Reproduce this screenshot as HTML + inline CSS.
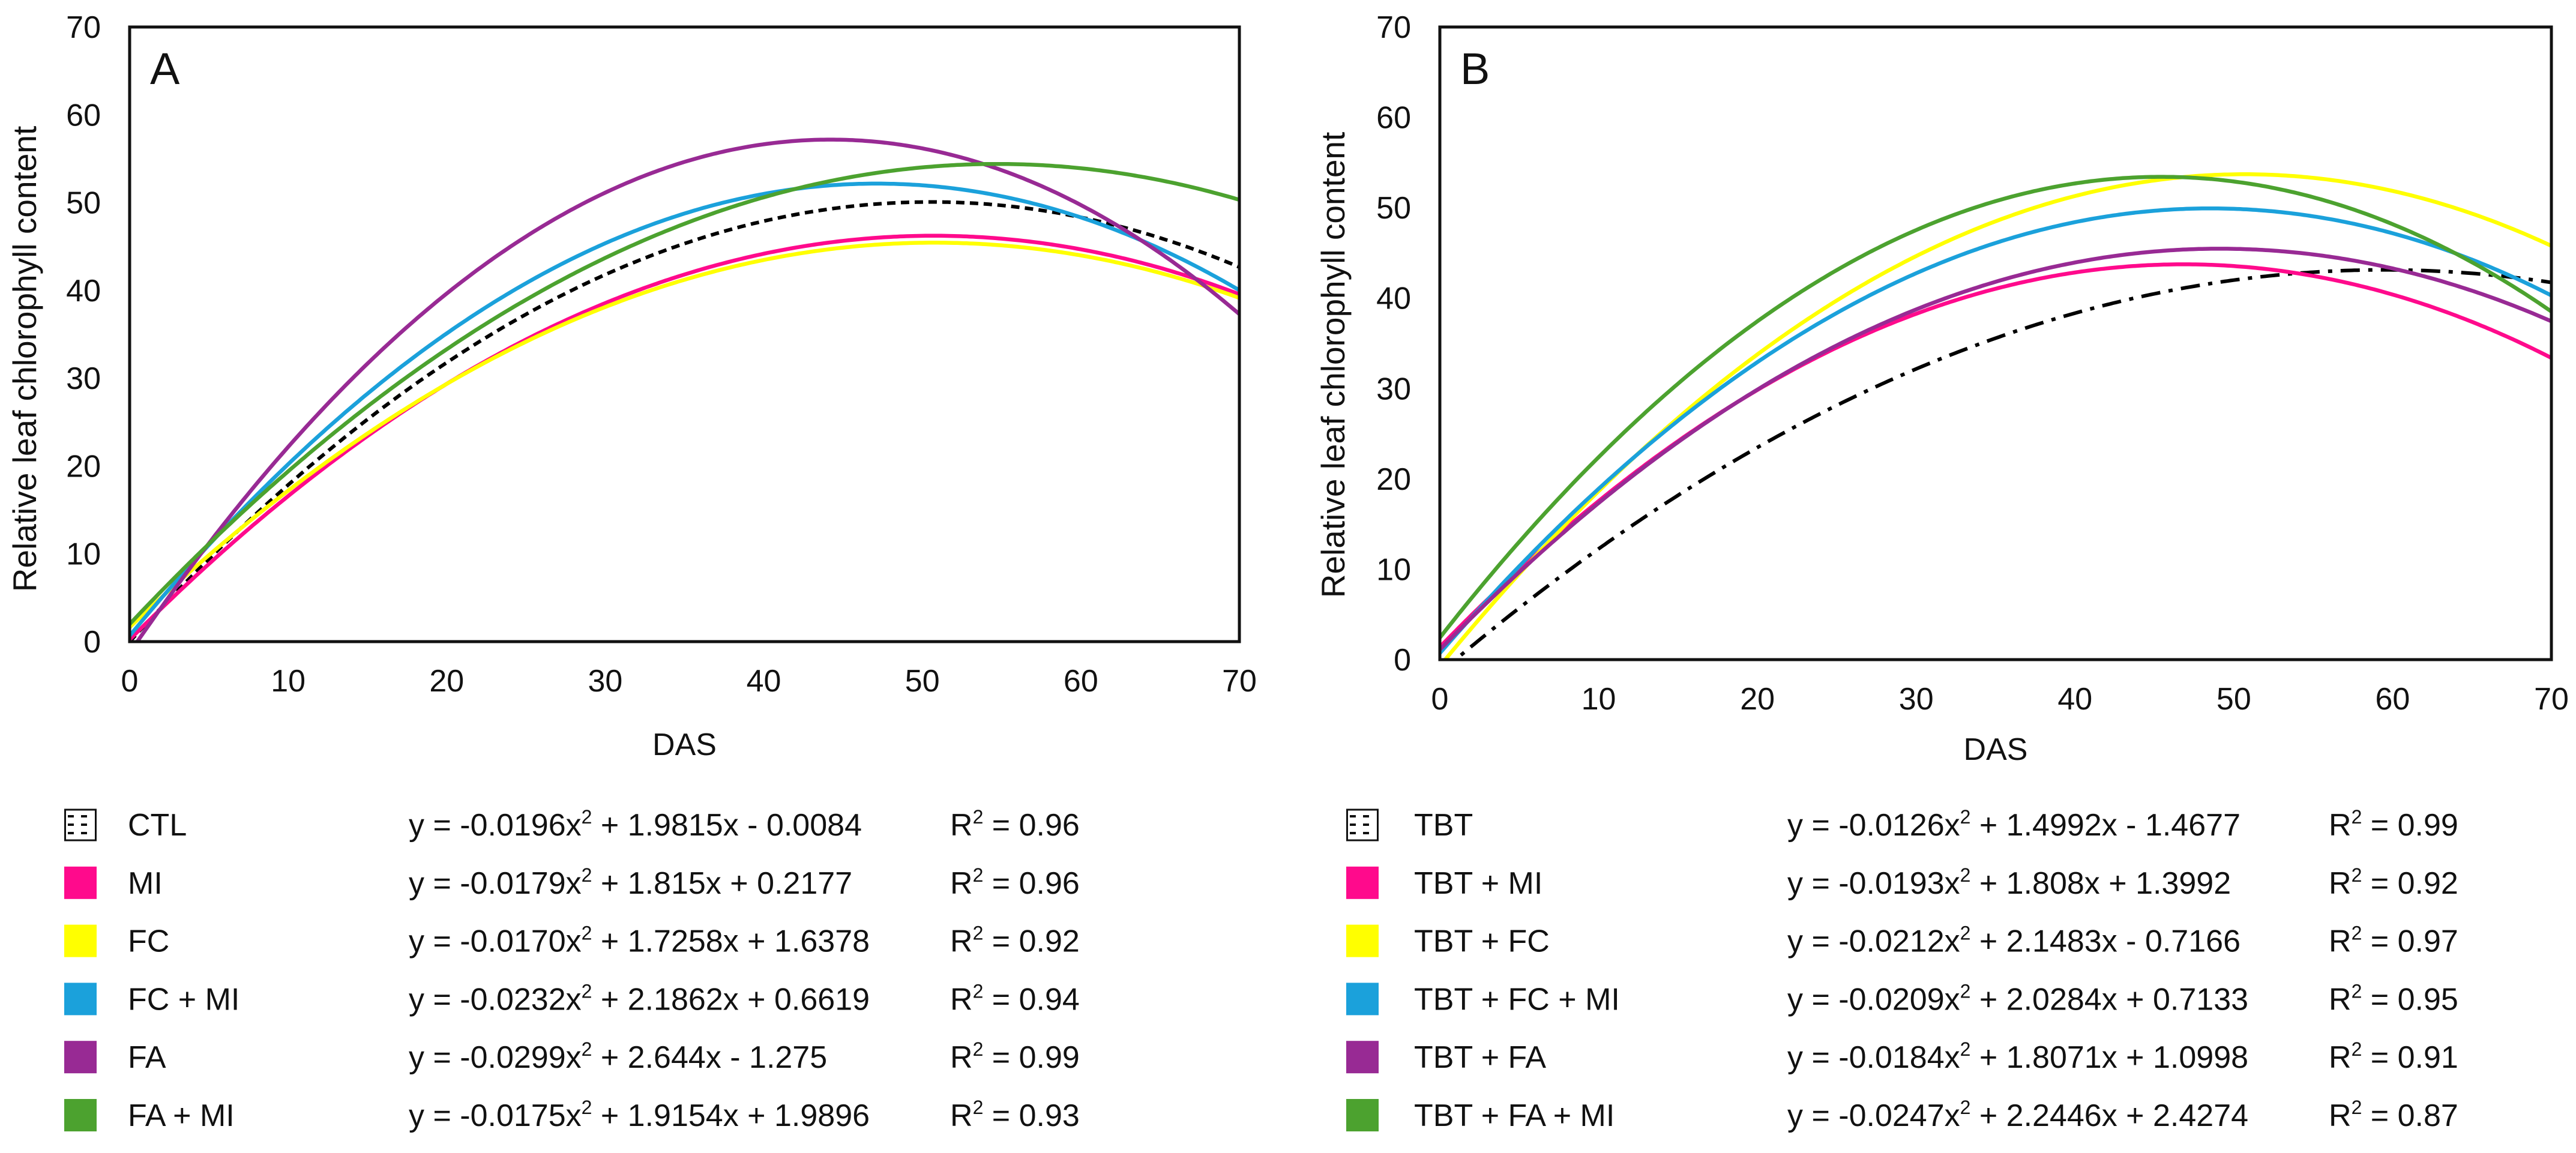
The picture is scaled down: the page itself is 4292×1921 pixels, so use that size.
<!DOCTYPE html>
<html>
<head>
<meta charset="utf-8">
<style>
html,body{margin:0;padding:0;background:#fff;}
svg{display:block;}
text{font-family:"Liberation Sans",Arial,sans-serif;fill:#111;}
</style>
</head>
<body>
<svg id="fig" xmlns="http://www.w3.org/2000/svg" width="4292" height="1921" viewBox="0 0 4292 1921"></svg>
<script>
// ---- Data: panel A (quadratic trendline coefficients y = a x^2 + b x + c) ----
const namesA = ["CTL", "MI", "FC", "FC + MI", "FA", "FA + MI"];
const aA = [-0.0196, -0.0179, -0.0170, -0.0232, -0.0299, -0.0175];
const bA = [1.9815, 1.815, 1.7258, 2.1862, 2.644, 1.9154];
const cA = [-0.0084, 0.2177, 1.6378, 0.6619, -1.275, 1.9896];
const r2A = ["0.96", "0.96", "0.92", "0.94", "0.99", "0.93"];
const eqA = ["-0.0196", "1.9815", "- 0.0084", "-0.0179", "1.815", "+ 0.2177", "-0.0170", "1.7258", "+ 1.6378", "-0.0232", "2.1862", "+ 0.6619", "-0.0299", "2.644", "- 1.275", "-0.0175", "1.9154", "+ 1.9896"];
// ---- Data: panel B ----
const namesB = ["TBT", "TBT + MI", "TBT + FC", "TBT + FC + MI", "TBT + FA", "TBT + FA + MI"];
const aB = [-0.0126, -0.0193, -0.0212, -0.0209, -0.0184, -0.0247];
const bB = [1.4992, 1.808, 2.1483, 2.0284, 1.8071, 2.2446];
const cB = [-1.4677, 1.3992, -0.7166, 0.7133, 1.0998, 2.4274];
const r2B = ["0.99", "0.92", "0.97", "0.95", "0.91", "0.87"];
const eqB = ["-0.0126", "1.4992", "- 1.4677", "-0.0193", "1.808", "+ 1.3992", "-0.0212", "2.1483", "- 0.7166", "-0.0209", "2.0284", "+ 0.7133", "-0.0184", "1.8071", "+ 1.0998", "-0.0247", "2.2446", "+ 2.4274"];
// ---- Axis ticks ----
const xTicks = [0, 10, 20, 30, 40, 50, 60, 70];
const yTicks = [0, 10, 20, 30, 40, 50, 60, 70];

const colors = ["#000000", "#ff0a8c", "#ffff00", "#1ba1db", "#982a94", "#4ca22f"];
const NS = "http://www.w3.org/2000/svg";
const svg = document.getElementById("fig");

function mk(tag, attrs, parent) {
  const e = document.createElementNS(NS, tag);
  for (const k in attrs) e.setAttribute(k, attrs[k]);
  (parent || svg).appendChild(e);
  return e;
}

function drawPanel(p) {
  const g = mk("g", {});
  
  
  const sx = v => p.x0 + (v - 0) / 70 * (p.x1 - p.x0);
  const sy = v => p.y0 - (v - 0) / 70 * (p.y0 - p.y1);

  const cp = mk("clipPath", { id: "clip" + p.id }, g);
  mk("rect", { x: p.x0, y: p.y1, width: p.x1 - p.x0, height: p.y0 - p.y1 }, cp);

  const lines = mk("g", { "clip-path": "url(#clip" + p.id + ")" }, g);
  for (let i = 0; i < p.a.length; i++) {
    let d = "";
    for (let k = 0; k <= 350; k++) {
      const x = k * 70 / 350;
      const y = p.a[i] * x * x + p.b[i] * x + p.c[i];
      d += (k ? "L" : "M") + sx(x).toFixed(1) + " " + sy(y).toFixed(1);
    }
    const path = mk("path", { d: d, fill: "none", stroke: colors[i], "stroke-width": i === 0 ? 6 : 6.5 }, lines);
    if (i === 0) path.setAttribute("stroke-dasharray", p.dash);
    
    
  }

  const fr = mk("rect", { x: p.x0, y: p.y1, width: p.x1 - p.x0, height: p.y0 - p.y1, fill: "none", stroke: "#111", "stroke-width": 5 }, g);
  
  

  for (const t of yTicks) {
    const tx = mk("text", { x: p.x0 - 48, y: sy(t) + 18, "font-size": 52, "text-anchor": "end" }, g);
    tx.textContent = t;
    
    
  }
  for (const t of xTicks) {
    const tx = mk("text", { x: sx(t), y: p.xTickY, "font-size": 52, "text-anchor": "middle" }, g);
    tx.textContent = t;
    
    
  }
  const xt = mk("text", { x: (p.x0 + p.x1) / 2, y: p.dasY, "font-size": 52, "text-anchor": "middle" }, g);
  xt.textContent = "DAS";
  
  
  const yt = mk("text", { x: 0, y: 0, "font-size": 55, "text-anchor": "middle", transform: "translate(" + p.ytX + "," + p.ytY + ") rotate(-90)" }, g);
  yt.textContent = "Relative leaf chlorophyll content";
  
  
  const pl = mk("text", { x: p.x0 + 34, y: 140, "font-size": 74 }, g);
  pl.textContent = p.id;
  
  

  for (let i = 0; i < p.names.length; i++) {
    const cy = 1374 + i * 96.8;
    const lg = mk("g", {}, g);
    
    
    if (i === 0) {
      mk("rect", { x: p.swX + 1.5, y: cy - 25, width: 51, height: 51, fill: "#fff", stroke: "#111", "stroke-width": 3 }, lg);
      for (const dy of [-14, 0, 14]) {
        mk("line", { x1: p.swX + 6, y1: cy + dy, x2: p.swX + 50, y2: cy + dy, stroke: "#111", "stroke-width": 4, "stroke-dasharray": "10 12" }, lg);
      }
    } else {
      mk("rect", { x: p.swX, y: cy - 27, width: 54, height: 54, fill: colors[i] }, lg);
    }
    const nm = mk("text", { x: p.txX, y: cy + 18, "font-size": 52 }, lg);
    nm.textContent = p.names[i];
    const eq = mk("text", { x: p.eqX, y: cy + 18, "font-size": 52 }, lg);
    const t1 = mk("tspan", {}, eq); t1.textContent = "y = " + p.eq[i * 3] + "x";
    const t2 = mk("tspan", { dy: -20, "font-size": 32 }, eq); t2.textContent = "2";
    const t3 = mk("tspan", { dy: 20 }, eq); t3.textContent = " + " + p.eq[i * 3 + 1] + "x " + p.eq[i * 3 + 2];
    const r = mk("text", { x: p.rX, y: cy + 18, "font-size": 52 }, lg);
    const r1 = mk("tspan", {}, r); r1.textContent = "R";
    const r2 = mk("tspan", { dy: -20, "font-size": 32 }, r); r2.textContent = "2";
    const r3 = mk("tspan", { dy: 20 }, r); r3.textContent = " = " + p.r2[i];
  }
}

drawPanel({ id: "A", x0: 216, x1: 2065, y0: 1069, y1: 45, a: aA, b: bA, c: cA, names: namesA, r2: r2A, eq: eqA,
  dash: "14 9", xTickY: 1152, dasY: 1258, ytX: 60, ytY: 598, swX: 107, txX: 213, eqX: 681, rX: 1583 });
drawPanel({ id: "B", x0: 2399, x1: 4251, y0: 1099, y1: 45, a: aB, b: bB, c: cB, names: namesB, r2: r2B, eq: eqB,
  dash: "32 14 7 14", xTickY: 1182, dasY: 1266, ytX: 2240, ytY: 608, swX: 2243, txX: 2356, eqX: 2978, rX: 3880 });
</script>
</body>
</html>
